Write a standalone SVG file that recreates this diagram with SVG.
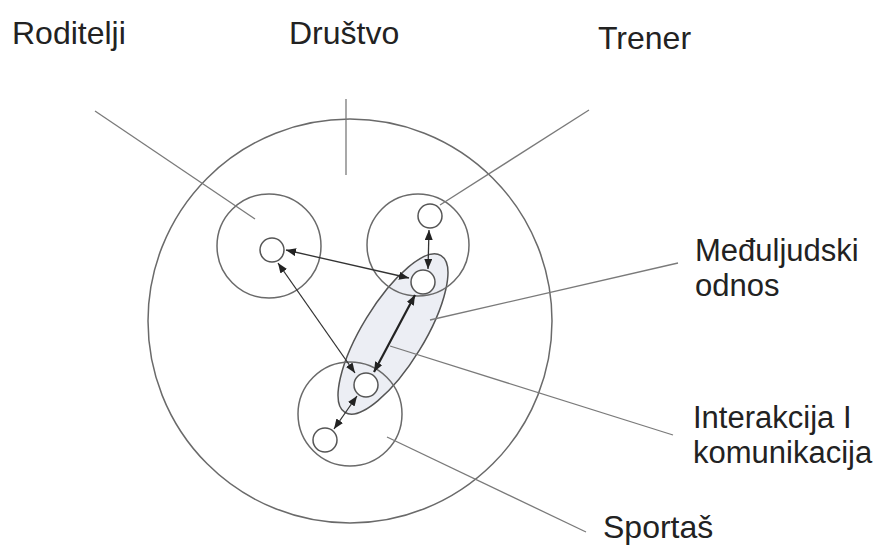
<svg xmlns="http://www.w3.org/2000/svg" width="887" height="547" viewBox="0 0 887 547">
<style>
.ring{fill:none;stroke:#6a6a6a;stroke-width:1.5}
.dot{fill:#fff;stroke:#555;stroke-width:1.5}
.lead{stroke:#7a7a7a;stroke-width:1.3;fill:none}
.arr{stroke:#333;stroke-width:1.3;fill:none;marker-start:url(#ah);marker-end:url(#ah)}
.arr2{stroke:#222;stroke-width:2.2;fill:none;marker-start:url(#ah);marker-end:url(#ah)}
text{font-family:"Liberation Sans",Arial,sans-serif;font-size:32px;fill:#222}
.r{font-size:31px}
</style>
<defs>
<marker id="ah" viewBox="0 0 10 8" refX="10" refY="4" markerWidth="10" markerHeight="8" markerUnits="userSpaceOnUse" orient="auto-start-reverse"><path d="M0,0L10,4L0,8Z" fill="#222"/></marker>
</defs>
<rect width="887" height="547" fill="#fff"/>
<g id="drustvo">
<circle class="ring" cx="350" cy="321" r="202"/>
<text x="289" y="44">Društvo</text>
</g>
<g id="meduljudski">
<ellipse cx="393" cy="334" rx="92" ry="31" transform="rotate(-58.5 393 334)" fill="#eceef4" stroke="#555" stroke-width="1.5"/>
<text class="r" x="695" y="261">Međuljudski</text>
<text class="r" x="695" y="296">odnos</text>
</g>
<g id="roditelji">
<circle class="ring" cx="269" cy="246" r="52"/>
<circle class="dot" cx="272" cy="250" r="12"/>
<text x="12" y="44">Roditelji</text>
</g>
<g id="trener">
<circle class="ring" cx="418" cy="245" r="51"/>
<circle class="dot" cx="430" cy="216" r="12"/>
<circle class="dot" cx="423" cy="282" r="12"/>
<text x="598" y="49">Trener</text>
</g>
<g id="sportas">
<circle class="ring" cx="350" cy="414" r="52"/>
<circle class="dot" cx="366" cy="385" r="12"/>
<circle class="dot" cx="325" cy="440" r="12"/>
<text x="603" y="538">Sportaš</text>
</g>
<g id="interakcija">
<text class="r" x="693" y="428">Interakcija I</text>
<text class="r" x="693" y="463">komunikacija</text>
</g>
<g id="connectors">
<line class="lead" x1="95" y1="111" x2="255" y2="219"/>
<line class="lead" x1="346" y1="99" x2="346" y2="175"/>
<line class="lead" x1="589" y1="110" x2="440" y2="205"/>
<line class="lead" x1="430" y1="320" x2="678" y2="263"/>
<line class="lead" x1="390" y1="346" x2="673" y2="435"/>
<line class="lead" x1="387" y1="437" x2="586" y2="532"/>
<line class="arr" x1="429" y1="230" x2="428" y2="269"/>
<line class="arr" x1="286" y1="250" x2="409" y2="278"/>
<line class="arr" x1="278" y1="263" x2="355" y2="373"/>
<line class="arr2" x1="374" y1="372" x2="415" y2="295"/>
<line class="arr" x1="357" y1="396" x2="334" y2="429"/>
</g>
</svg>
